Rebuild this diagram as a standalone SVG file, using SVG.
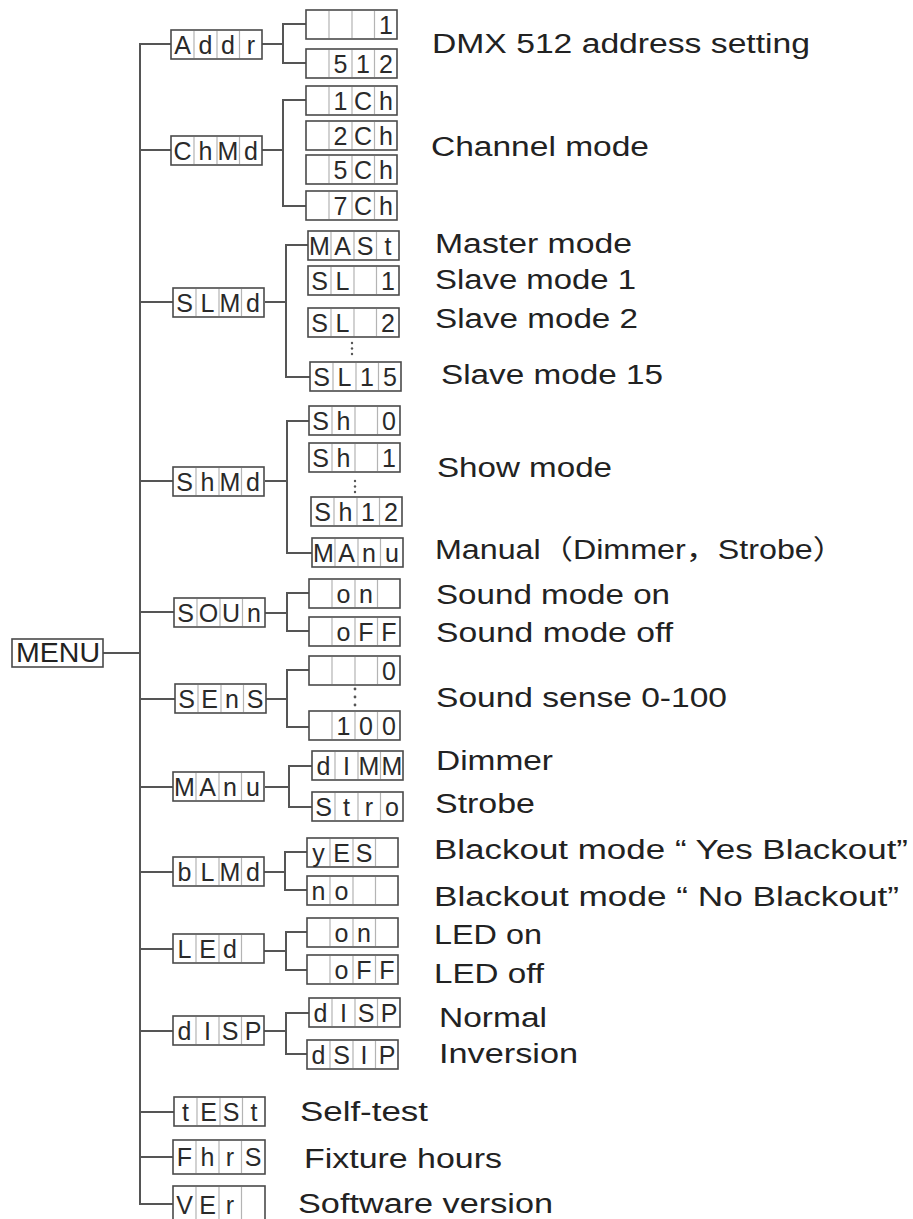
<svg xmlns="http://www.w3.org/2000/svg" width="913" height="1219" viewBox="0 0 913 1219">
<style>
.bx{fill:#fff;stroke:#4a4a4a;stroke-width:1.6}
.dv{stroke:#b4b4b4;stroke-width:1.2}
.seg{font-family:"Liberation Sans","DejaVu Sans",sans-serif;font-size:25px;fill:#2a2a2a;text-anchor:middle}
.lbl{font-family:"Liberation Sans","Noto Sans CJK SC",sans-serif;font-size:27px;fill:#222}
.cn{fill:none;stroke:#555;stroke-width:2}
.dot{fill:#555}
</style>
<defs>
<g id="d4"><rect class="bx" x="0" y="0" width="91" height="29"/><path class="dv" d="M23,1V28M46,1V28M68.5,1V28"/></g>
</defs>
<rect width="913" height="1219" fill="#fff"/>

<g id="connectors">
<path class="cn" d="M103,653H140"/>
<path class="cn" d="M171,44H140V1204H173"/>
<path class="cn" d="M140,150H171M140,302H173M140,481H173M140,612H174M140,699H175M140,787H173M140,872H173M140,949H173M140,1031H173M140,1112H174M140,1157H173"/>
<path class="cn" d="M262,44H283M306,24H283V63H306"/>
<path class="cn" d="M262,150H283M306,100H283V206H306"/>
<path class="cn" d="M265,302H286M308,245H286V377H310"/>
<path class="cn" d="M265,481H287M309,421H287V553H312"/>
<path class="cn" d="M265,613H287M309,593H287V631H309"/>
<path class="cn" d="M266,699H287M309,670H287V727H309"/>
<path class="cn" d="M265,787H289M312,766H289V807H312"/>
<path class="cn" d="M264,872H285M307,852H285V890H307"/>
<path class="cn" d="M264,951H286M307,932H286V970H307"/>
<path class="cn" d="M264,1031H286M309,1013H286V1054H307"/>
<circle class="dot" cx="352" cy="343" r="1.2"/><circle class="dot" cx="352" cy="348.5" r="1.2"/><circle class="dot" cx="352" cy="354" r="1.2"/>
<circle class="dot" cx="355" cy="481" r="1.2"/><circle class="dot" cx="355" cy="486.5" r="1.2"/><circle class="dot" cx="355" cy="492" r="1.2"/>
<circle class="dot" cx="355" cy="689" r="1.4"/><circle class="dot" cx="355" cy="697" r="1.4"/><circle class="dot" cx="355" cy="705" r="1.4"/>
</g>

<g id="menu"><rect class="bx" x="12" y="639" width="91" height="28"/><text class="lbl" x="16" y="662" textLength="84" lengthAdjust="spacingAndGlyphs">MENU</text></g>

<g id="n-addr" transform="translate(171,30)"><use href="#d4"/><text class="seg" y="24" x="11.5 34.5 57 80">Addr</text></g>
<g id="n-addr-1" transform="translate(306,10)"><use href="#d4"/><text class="seg" y="24" x="80">1</text></g>
<g id="n-addr-512" transform="translate(306,49)"><use href="#d4"/><text class="seg" y="24" x="34.5 57 80">512</text></g>

<g id="n-chmd" transform="translate(171,136)"><use href="#d4"/><text class="seg" y="24" x="11.5 34.5 57 80">ChMd</text></g>
<g id="n-1ch" transform="translate(306,86)"><use href="#d4"/><text class="seg" y="24" x="34.5 57 80">1Ch</text></g>
<g id="n-2ch" transform="translate(306,121)"><use href="#d4"/><text class="seg" y="24" x="34.5 57 80">2Ch</text></g>
<g id="n-5ch" transform="translate(306,155)"><use href="#d4"/><text class="seg" y="24" x="34.5 57 80">5Ch</text></g>
<g id="n-7ch" transform="translate(306,191)"><use href="#d4"/><text class="seg" y="24" x="34.5 57 80">7Ch</text></g>

<g id="n-slmd" transform="translate(173,288)"><use href="#d4"/><text class="seg" y="24" x="11.5 34.5 57 80">SLMd</text></g>
<g id="n-mast" transform="translate(308,231)"><use href="#d4"/><text class="seg" y="24" x="11.5 34.5 57 80">MASt</text></g>
<g id="n-sl1" transform="translate(308,266)"><use href="#d4"/><text class="seg" y="24" x="11.5 34.5 57 80">SL 1</text></g>
<g id="n-sl2" transform="translate(308,308)"><use href="#d4"/><text class="seg" y="24" x="11.5 34.5 57 80">SL 2</text></g>
<g id="n-sl15" transform="translate(310,362)"><use href="#d4"/><text class="seg" y="24" x="11.5 34.5 57 80">SL15</text></g>

<g id="n-shmd" transform="translate(173,467)"><use href="#d4"/><text class="seg" y="24" x="11.5 34.5 57 80">ShMd</text></g>
<g id="n-sh0" transform="translate(309,406)"><use href="#d4"/><text class="seg" y="24" x="11.5 34.5 57 80">Sh 0</text></g>
<g id="n-sh1" transform="translate(309,443)"><use href="#d4"/><text class="seg" y="24" x="11.5 34.5 57 80">Sh 1</text></g>
<g id="n-sh12" transform="translate(311,497)"><use href="#d4"/><text class="seg" y="24" x="11.5 34.5 57 80">Sh12</text></g>
<g id="n-manu2" transform="translate(312,538)"><use href="#d4"/><text class="seg" y="24" x="11.5 34.5 57 80">MAnu</text></g>

<g id="n-soun" transform="translate(174,598)"><use href="#d4"/><text class="seg" y="24" x="11.5 34.5 57 80">SOUn</text></g>
<g id="n-son" transform="translate(309,579)"><use href="#d4"/><text class="seg" y="24" x="34.5 57">on</text></g>
<g id="n-soff" transform="translate(309,617)"><use href="#d4"/><text class="seg" y="24" x="34.5 57 80">oFF</text></g>

<g id="n-sens" transform="translate(175,684)"><use href="#d4"/><text class="seg" y="24" x="11.5 34.5 57 80">SEnS</text></g>
<g id="n-s0" transform="translate(309,656)"><use href="#d4"/><text class="seg" y="24" x="80">0</text></g>
<g id="n-s100" transform="translate(309,711)"><use href="#d4"/><text class="seg" y="24" x="34.5 57 80">100</text></g>

<g id="n-manu" transform="translate(173,772)"><use href="#d4"/><text class="seg" y="24" x="11.5 34.5 57 80">MAnu</text></g>
<g id="n-dimm" transform="translate(312,751)"><use href="#d4"/><text class="seg" y="24" x="11.5 34.5 57 80">dIMM</text></g>
<g id="n-stro" transform="translate(312,792)"><use href="#d4"/><text class="seg" y="24" x="11.5 34.5 57 80">Stro</text></g>

<g id="n-blmd" transform="translate(173,857)"><use href="#d4"/><text class="seg" y="24" x="11.5 34.5 57 80">bLMd</text></g>
<g id="n-yes" transform="translate(307,838)"><use href="#d4"/><text class="seg" y="24" x="11.5 34.5 57">yES</text></g>
<g id="n-no" transform="translate(307,876)"><use href="#d4"/><text class="seg" y="24" x="11.5 34.5">no</text></g>

<g id="n-led" transform="translate(173,934)"><use href="#d4"/><text class="seg" y="24" x="11.5 34.5 57">LEd</text></g>
<g id="n-lon" transform="translate(307,918)"><use href="#d4"/><text class="seg" y="24" x="34.5 57">on</text></g>
<g id="n-loff" transform="translate(307,955)"><use href="#d4"/><text class="seg" y="24" x="34.5 57 80">oFF</text></g>

<g id="n-disp" transform="translate(173,1016)"><use href="#d4"/><text class="seg" y="24" x="11.5 34.5 57 80">dISP</text></g>
<g id="n-disp1" transform="translate(309,998)"><use href="#d4"/><text class="seg" y="24" x="11.5 34.5 57 80">dISP</text></g>
<g id="n-dsip" transform="translate(307,1040)"><use href="#d4"/><text class="seg" y="24" x="11.5 34.5 57 80">dSIP</text></g>

<g id="n-test" transform="translate(174,1097)"><use href="#d4"/><text class="seg" y="24" x="11.5 34.5 57 80">tESt</text></g>
<g id="n-fhrs" transform="translate(173,1140)"><rect class="bx" x="0" y="0" width="92" height="34"/><path class="dv" d="M23,1V33M46,1V33M68.5,1V33"/><text class="seg" y="26" x="11.5 34.5 57 80">FhrS</text></g>
<g id="n-ver" transform="translate(173,1186)"><rect class="bx" x="0" y="0" width="92" height="40"/><path class="dv" d="M23,1V39M46,1V39M68.5,1V39"/><text class="seg" y="28" x="11.5 34.5 57">VEr</text></g>

<g id="labels">
<text class="lbl" x="432" y="53" textLength="378" lengthAdjust="spacingAndGlyphs">DMX 512 address setting</text>
<text class="lbl" x="431" y="156" textLength="218" lengthAdjust="spacingAndGlyphs">Channel mode</text>
<text class="lbl" x="435" y="253" textLength="197" lengthAdjust="spacingAndGlyphs">Master mode</text>
<text class="lbl" x="435" y="289" textLength="201" lengthAdjust="spacingAndGlyphs">Slave mode 1</text>
<text class="lbl" x="435" y="328" textLength="203" lengthAdjust="spacingAndGlyphs">Slave mode 2</text>
<text class="lbl" x="441" y="384" textLength="222" lengthAdjust="spacingAndGlyphs">Slave mode 15</text>
<text class="lbl" x="437" y="477" textLength="175" lengthAdjust="spacingAndGlyphs">Show mode</text>
<text class="lbl" x="435" y="559" textLength="410" lengthAdjust="spacingAndGlyphs">Manual（Dimmer，Strobe）</text>
<text class="lbl" x="436" y="604" textLength="234" lengthAdjust="spacingAndGlyphs">Sound mode on</text>
<text class="lbl" x="436" y="642" textLength="237" lengthAdjust="spacingAndGlyphs">Sound mode off</text>
<text class="lbl" x="436" y="707" textLength="291" lengthAdjust="spacingAndGlyphs">Sound sense 0-100</text>
<text class="lbl" x="436" y="770" textLength="117" lengthAdjust="spacingAndGlyphs">Dimmer</text>
<text class="lbl" x="435" y="813" textLength="100" lengthAdjust="spacingAndGlyphs">Strobe</text>
<text class="lbl" x="434" y="859" textLength="474" lengthAdjust="spacingAndGlyphs">Blackout mode “ Yes Blackout”</text>
<text class="lbl" x="434" y="906" textLength="465" lengthAdjust="spacingAndGlyphs">Blackout mode “ No Blackout”</text>
<text class="lbl" x="434" y="944" textLength="108" lengthAdjust="spacingAndGlyphs">LED on</text>
<text class="lbl" x="434" y="983" textLength="110" lengthAdjust="spacingAndGlyphs">LED off</text>
<text class="lbl" x="439" y="1027" textLength="108" lengthAdjust="spacingAndGlyphs">Normal</text>
<text class="lbl" x="439" y="1063" textLength="139" lengthAdjust="spacingAndGlyphs">Inversion</text>
<text class="lbl" x="300" y="1121" textLength="128" lengthAdjust="spacingAndGlyphs">Self-test</text>
<text class="lbl" x="304" y="1168" textLength="198" lengthAdjust="spacingAndGlyphs">Fixture hours</text>
<text class="lbl" x="298" y="1213" textLength="255" lengthAdjust="spacingAndGlyphs">Software version</text>
</g>
</svg>
